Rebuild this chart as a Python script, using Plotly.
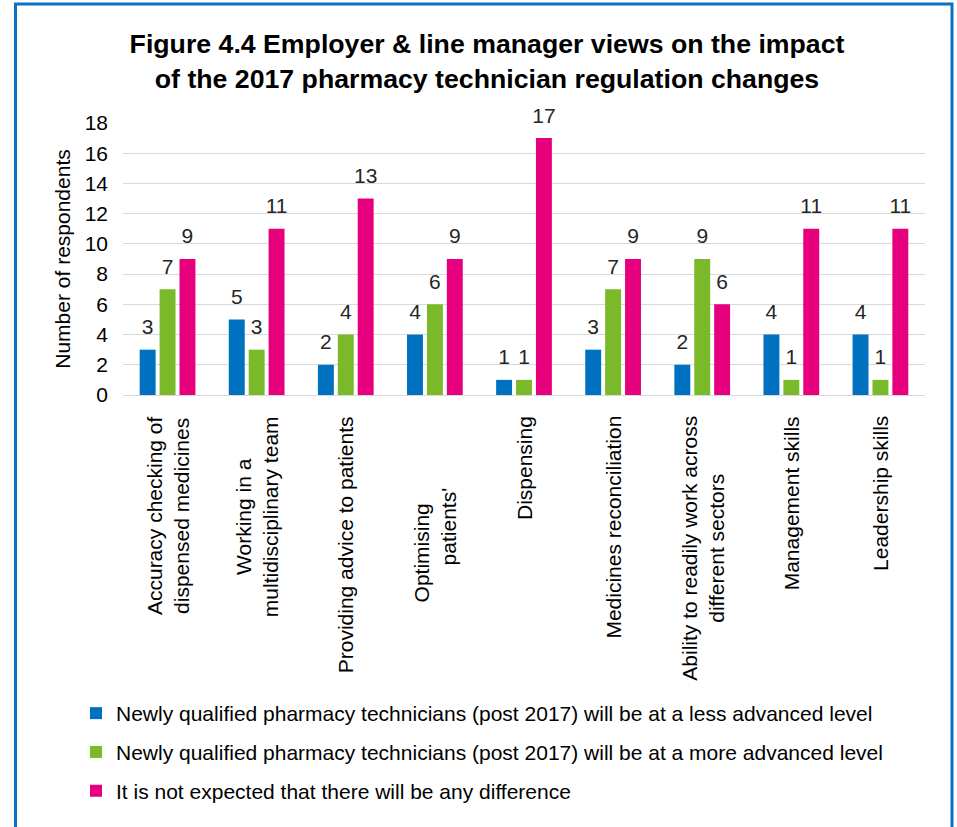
import plotly.graph_objects as go

# Survey categories (line breaks as wrapped under the axis)
categories = [
    "Accuracy checking of<br>dispensed medicines",
    "Working in a<br>multidisciplinary team",
    "Providing advice to patients",
    "Optimising<br>" + "\u00a0" * 9 + "patients'",
    "Dispensing",
    "Medicines reconciliation",
    "Ability to readily work across<br>different sectors",
    "Management skills",
    "Leadership skills",
]

series_names = [
    "Newly qualified pharmacy technicians (post 2017) will be at a less advanced level",
    "Newly qualified pharmacy technicians (post 2017) will be at a more advanced level",
    "It is not expected that there will be any difference",
]

less_advanced = [3, 5, 2, 4, 1, 3, 2, 4, 4]
more_advanced = [7, 3, 4, 6, 1, 7, 9, 1, 1]
no_difference = [9, 11, 13, 9, 17, 9, 6, 11, 11]

y_ticks = [0, 2, 4, 6, 8, 10, 12, 14, 16, 18]

colors = ["#0070c0", "#7ab929", "#e6007e"]
FONT = "Arial, Liberation Sans, sans-serif"

xs = list(range(len(categories)))

fig = go.Figure()
for k, (name, vals, col) in enumerate(zip(series_names, [less_advanced, more_advanced, no_difference], colors)):
    fig.add_trace(go.Bar(
        x=xs, y=vals, name=name, legendgroup=name, offsetgroup=str(k),
        marker=dict(color=col, line=dict(width=0)),
    ))
    # value labels, grouped alongside the bars
    fig.add_trace(go.Scatter(
        x=xs, y=vals, mode="markers+text", offsetgroup=str(k),
        legendgroup=name, showlegend=False,
        text=[str(v) for v in vals], textposition="top center",
        textfont=dict(family=FONT, size=21, color="#262626"),
        marker=dict(size=15, opacity=0, color=col),
        hoverinfo="skip", cliponaxis=False,
    ))

# Category labels under the axis, rotated and centre-aligned
label_shift = [-19, -19, -19, -91, -19, -19, -19, -19, -19]
for x, lab, sh in zip(xs, categories, label_shift):
    fig.add_annotation(
        x=x, y=0, xref="x", yref="y", text=lab, showarrow=False,
        textangle=-90, align="center", xanchor="center", yanchor="top",
        yshift=sh, font=dict(family=FONT, size=21, color="#000000"),
    )

# Blue frame around the figure
L, T = 123, 123
W, H = 802, 272
def px(xp):
    return (xp - L) / W
def py(yp):
    return (T + H - yp) / H

fig.add_shape(type="rect", xref="paper", yref="paper",
              x0=px(15.5), x1=px(952), y0=py(840), y1=py(4),
              line=dict(color="#0e70c0", width=3), fillcolor="rgba(0,0,0,0)",
              layer="above")

fig.update_layout(
    width=957, height=827,
    margin=dict(l=L, r=957 - L - W, t=T, b=827 - T - H),
    paper_bgcolor="white", plot_bgcolor="white",
    barmode="group", bargap=0.33, bargroupgap=0.2,
    scattermode="group", scattergap=0.33,
    font=dict(family=FONT, size=21, color="#000000"),
    title=dict(
        text="<b>Figure 4.4 Employer & line manager views on the impact<br>of the 2017 pharmacy technician regulation changes</b>",
        font=dict(family=FONT, size=26.7, color="#000000"),
        xref="paper", x=px(487), xanchor="center",
        yref="container", y=1 - 53 / 827, yanchor="top",
    ),
    xaxis=dict(
        range=[-0.5, len(categories) - 0.5], showticklabels=False,
        showgrid=False, zeroline=False, showline=False, ticks="",
    ),
    yaxis=dict(
        range=[0, 18], tickvals=y_ticks, showgrid=True, gridcolor="#d9d9d9",
        gridwidth=1, zeroline=True, zerolinecolor="#d9d9d9", zerolinewidth=1,
        showline=False, ticks="", ticklabelstandoff=14,
        tickfont=dict(family=FONT, size=21, color="#000000"),
        title=dict(text="Number of respondents", standoff=8,
                   font=dict(family=FONT, size=21, color="#000000")),
    ),
    legend=dict(
        orientation="v", x=px(76), xanchor="left", y=py(693), yanchor="top",
        yref="paper", xref="paper",
        font=dict(family=FONT, size=21, color="#000000"),
        tracegroupgap=8.5, bgcolor="rgba(0,0,0,0)",
    ),
    showlegend=True,
)

fig.write_html("out.html")
